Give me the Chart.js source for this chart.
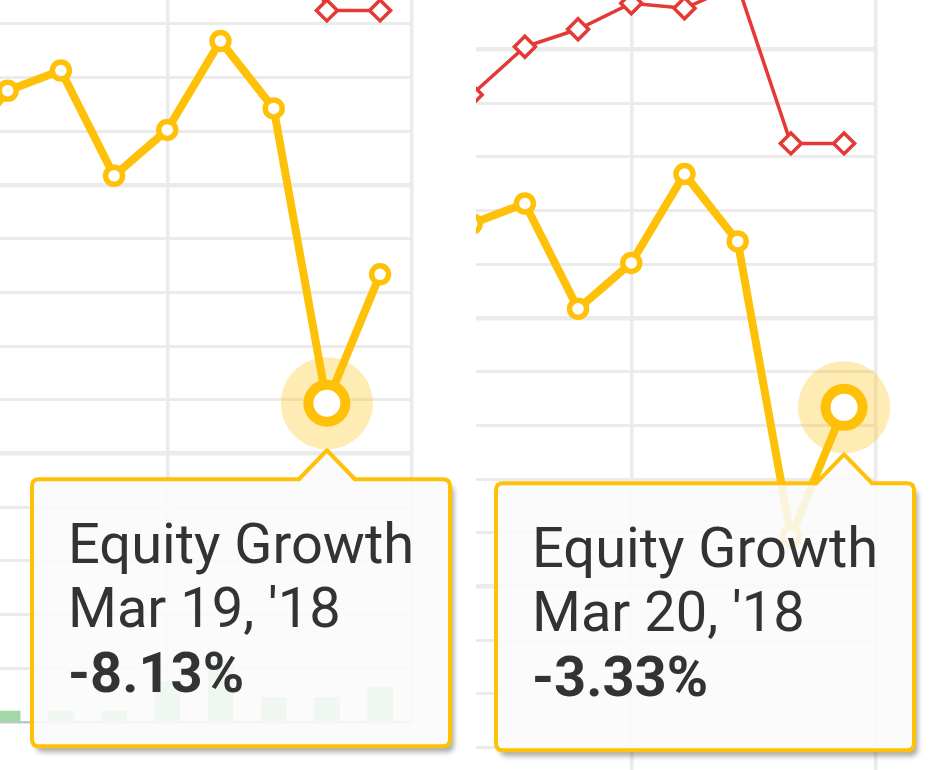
<!DOCTYPE html>
<html><head><meta charset="utf-8">
<script src="https://cdn.jsdelivr.net/npm/chart.js@4/dist/chart.umd.min.js"></script>
<style>
html,body{margin:0;padding:0;background:#fff;width:945px;height:770px;overflow:hidden;font-family:Roboto,'Noto Sans',sans-serif;}
.panel{position:absolute;top:0;height:770px;overflow:hidden;background:#fff;}
.panel canvas{position:absolute;}
.tip{position:absolute;left:0;top:0;width:100%;height:100%;pointer-events:none;}
.tip svg{position:absolute;left:0;top:0;overflow:visible;}
.tip .txt{position:absolute;font-size:56px;line-height:64.5px;color:#333;white-space:nowrap;font-family:Roboto,sans-serif;}
.tip .txt b{font-weight:700;}
</style></head><body>
<div class="panel" id="p1" style="left:0;width:470px"><canvas id="c1" width="620" height="975"></canvas><div class="tip" id="t1"></div></div>
<div class="panel" id="p2" style="left:476px;width:469px"><canvas id="c2" width="620" height="975"></canvas><div class="tip" id="t2"></div></div>
<script>
// ---- data ----
const dates = ["Mar 8, '18", "Mar 9, '18", "Mar 12, '18", "Mar 13, '18", "Mar 14, '18", "Mar 15, '18", "Mar 16, '18", "Mar 19, '18", "Mar 20, '18"];
const equityGrowth = [1.08, 3.51, 4.26, 0.34, 2.05, 5.36, 2.85, -8.13, -3.33];
const benchmark = [7.5, 8.31, 10.10, 10.75, 11.72, 11.53, 12.40, 6.50, 6.50];
const volume = [1.2, 1.2, 1.2, 1.2, 4.4, 6.7, 2.7, 2.7, 3.8];
const yGridStep = 2;
const xGridAt = [4];

// ---- style ----
const YEL = '#FFC107', RED = '#E53935', GRID = '#ebebeb', GREEN = '#a5d6a7';

const haloPlugin = {
  id: 'halo',
  beforeDatasetsDraw(chart) {
    const ctx = chart.ctx;
    chart.getActiveElements().forEach(a => {
      const el = a.element;
      ctx.save();
      ctx.fillStyle = 'rgba(255,193,7,0.3)';
      ctx.beginPath();
      ctx.arc(el.x, el.y, 46, 0, Math.PI * 2);
      ctx.fill();
      ctx.restore();
    });
  }
};

function drawTip(chart, tooltip, tipEl, uid) {
  if (!tooltip.dataPoints || !tooltip.dataPoints.length) return;
  const dp = tooltip.dataPoints[0];
  const ca = chart.chartArea;
  const cl = parseFloat(chart.canvas.style.left), ct = parseFloat(chart.canvas.style.top);
  if (isNaN(cl) || isNaN(ct)) return;
  const px = cl + tooltip.caretX, py = ct + tooltip.caretY;
  const x1 = cl + ca.right + 38, x0 = x1 - 418;
  const y0 = py + 76, y1 = y0 + 267;
  const r = 7, cw = 28, ch = 29;
  const d = `M${x0 + r},${y0} L${px - cw},${y0} L${px},${y0 - ch} L${px + cw},${y0} L${x1 - r},${y0} Q${x1},${y0} ${x1},${y0 + r} L${x1},${y1 - r} Q${x1},${y1} ${x1 - r},${y1} L${x0 + r},${y1} Q${x0},${y1} ${x0},${y1 - r} L${x0},${y0 + r} Q${x0},${y0} ${x0 + r},${y0} Z`;
  const label = dp.dataset.label;
  const date = dates[dp.dataIndex];
  const val = dp.parsed.y.toFixed(2) + '%';
  tipEl.innerHTML = `<svg width="100%" height="100%">
    <defs>
      <filter id="bl${uid}" x="-20%" y="-20%" width="140%" height="140%"><feGaussianBlur stdDeviation="2.5"/></filter>
      <mask id="mk${uid}" maskUnits="userSpaceOnUse" x="-100" y="-100" width="2000" height="2000">
        <rect x="-100" y="-100" width="2000" height="2000" fill="#fff"/>
        <path d="${d}" fill="#000"/>
      </mask>
    </defs>
    <g mask="url(#mk${uid})"><path d="${d}" transform="translate(4,6)" fill="rgba(0,0,0,0.32)" filter="url(#bl${uid})"/></g>
    <path d="${d}" fill="rgba(250,250,250,0.88)" stroke="${YEL}" stroke-width="4" stroke-linejoin="round"/>
  </svg>
  <div class="txt" style="left:${x0 + 36}px;top:${y0 + 32.5}px"><div>${label}</div><div>${date}</div><div><b>${val}</b></div></div>`;
}

// plotLeft/plotBottom: where the chart's plot area sits, in panel px
function makeChart(cvId, tipId, activeIdx, plotLeft, plotBottom, uid) {
  const cv = document.getElementById(cvId);
  const tipEl = document.getElementById(tipId);
  let placed = false;
  const chart = new Chart(cv, {
    type: 'line',
    data: {
      datasets: [
        {
          type: 'line', label: 'Equity Growth',
          data: equityGrowth.map((v, i) => ({ x: i, y: v })),
          borderColor: YEL, borderWidth: 8, tension: 0,
          pointRadius: 8.5, pointBorderWidth: 5.5, pointBackgroundColor: '#fff', pointBorderColor: YEL,
          pointHoverRadius: 18.5, pointHoverBorderWidth: 10, pointHoverBackgroundColor: '#fff', pointHoverBorderColor: YEL,
          yAxisID: 'y'
        },
        {
          type: 'line', label: 'Benchmark',
          data: benchmark.map((v, i) => ({ x: i, y: v })),
          borderColor: RED, borderWidth: 3.5, tension: 0,
          pointStyle: 'rectRot', pointRadius: 10.5, pointBorderWidth: 3.5, pointBackgroundColor: '#fff', pointBorderColor: RED,
          pointHoverRadius: 10.5, pointHoverBorderWidth: 3.5,
          yAxisID: 'y'
        },
        {
          type: 'bar', label: 'Volume',
          data: volume.map((v, i) => ({ x: i, y: v })),
          backgroundColor: GREEN, hoverBackgroundColor: GREEN, barThickness: 25,
          yAxisID: 'y2'
        }
      ]
    },
    options: {
      responsive: false, animation: false, devicePixelRatio: 1,
      layout: { autoPadding: false, padding: { left: 0, right: 88, top: 14, bottom: 48 } },
      plugins: {
        legend: { display: false },
        tooltip: { enabled: false, external: ({ chart, tooltip }) => { if (placed) drawTip(chart, tooltip, tipEl, uid); } }
      },
      scales: {
        x: {
          type: 'linear', offset: false, min: -1.4, max: 8.6,
          afterBuildTicks: s => { s.ticks = xGridAt.map(v => ({ value: v })); },
          ticks: { display: false },
          grid: { color: GRID, lineWidth: 3.5, drawTicks: false, offset: false },
          border: { display: true, color: '#b9c7d5', width: 2.5 }
        },
        y: {
          type: 'linear', position: 'right', min: -20, max: 14,
          ticks: { display: false, stepSize: yGridStep },
          grid: {
            drawTicks: false,
            color: c => (c.tick && c.tick.value === -20) ? 'rgba(0,0,0,0)' : GRID,
            lineWidth: c => (c.tick && c.tick.value % 10 === 0) ? 4.5 : 3
          },
          border: { display: true, color: GRID, width: 3.5 }
        },
        y2: { type: 'linear', display: false, min: 0, max: 100 }
      }
    },
    plugins: [haloPlugin]
  });
  const act = [{ datasetIndex: 0, index: activeIdx }];
  chart.setActiveElements(act);
  chart.update();
  const ca = chart.chartArea;
  cv.style.left = (plotLeft - ca.left) + 'px';
  cv.style.top = (plotBottom - ca.bottom) + 'px';
  placed = true;
  const el = chart.getDatasetMeta(0).data[activeIdx];
  chart.tooltip.setActiveElements(act, { x: el.x, y: el.y });
  chart.update();
  drawTip(chart, chart.tooltip, tipEl, uid);
  return chart;
}

// left panel: plot area from x=-120, bottom at y=722
makeChart('c1', 't1', 7, -120, 722, 'a');
// right panel: same chart shifted by (464, 133) page px; the panel starts at x=476
makeChart('c2', 't2', 8, -120 + 464 - 476, 722 + 133, 'b');
</script>
</body></html>
